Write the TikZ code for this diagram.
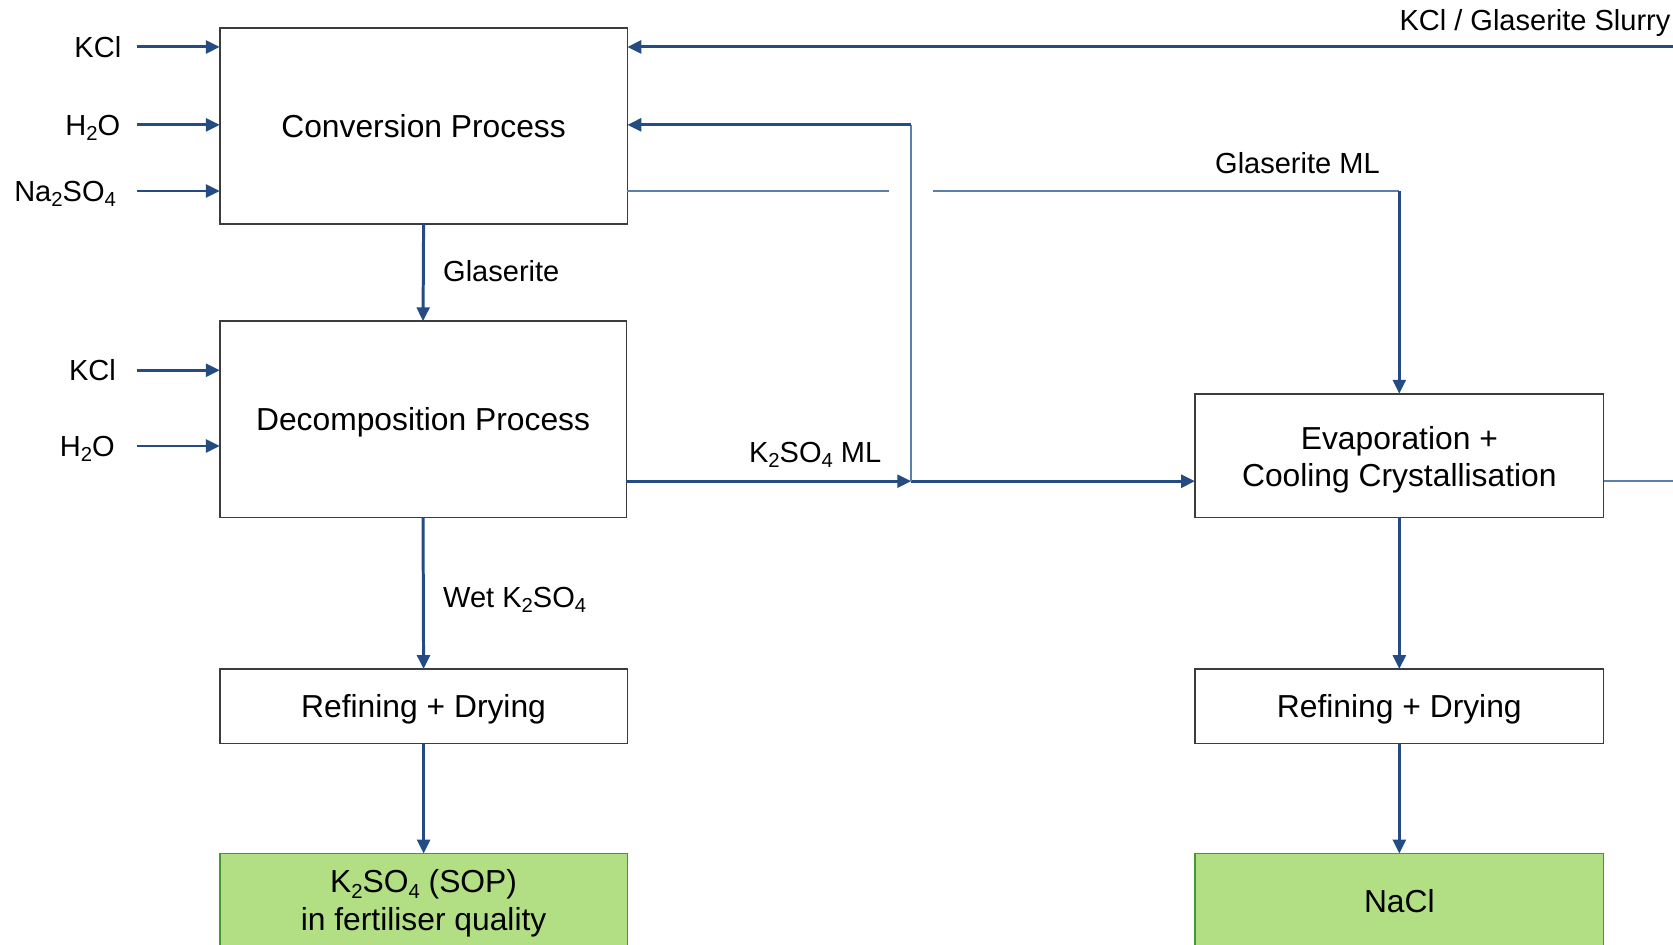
\documentclass[tikz,border=0pt]{standalone}
\usepackage{fontspec}
\setmainfont{Liberation Sans}
\usetikzlibrary{arrows.meta}
% chemical subscript
\newcommand\chsub[1]{\raisebox{-0.32ex}{\fontsize{9.5}{9.5}\selectfont #1}}
% lower a line of text without changing its box
\newcommand\lowerline[2]{\raisebox{-#1}[\height][\depth]{#2}}
\definecolor{flow}{RGB}{36,76,130}
\definecolor{flowlight}{RGB}{92,128,170}
\definecolor{boxline}{RGB}{60,60,60}
\definecolor{prodfill}{RGB}{178,223,132}
\definecolor{prodline}{RGB}{70,150,50}
\begin{document}
\begin{tikzpicture}[x=0.5pt,y=-0.5pt,
  box/.style={draw=boxline, line width=0.75pt, fill=white, inner sep=0pt, outer sep=0pt,
    align=center, font=\fontsize{14.9}{17.5}\selectfont, text height=10.67pt, text depth=0pt},
  twoline/.style={text height={}, text depth={}},
  prod/.style={box, fill=prodfill, draw=prodline},
  arr/.style={draw=flow, line width=1.4pt, -{Triangle[length=6.5pt,width=6pt]}},
  thinflow/.style={draw=flowlight, line width=0.8pt},
  lbl/.style={font=\fontsize{13.6}{16}\selectfont, inner sep=0pt, text height=9.74pt, text depth=0pt},
  inlbl/.style={lbl, anchor=east, inner xsep=#1},
  inlbl/.default=7pt,
]
\useasboundingbox (0,0) rectangle (1568,885);

% process boxes
\node[box, minimum width=191pt, minimum height=92pt] (conv) at (397,118) {Conversion Process};
\node[box, minimum width=190.5pt, minimum height=92pt] (decomp) at (396.5,393) {Decomposition Process};
\node[box, minimum width=191pt, minimum height=35pt] (refl) at (397,662) {Refining + Drying};
\node[prod, twoline, minimum width=191pt, minimum height=45pt] (sop) at (397,845)
  {\lowerline{0.8pt}{K\chsub{2}SO\chsub{4} (SOP)}\\\lowerline{0.8pt}{in fertiliser quality}};
\node[box, twoline, minimum width=191.5pt, minimum height=58pt] (evap) at (1311.5,427)
  {\lowerline{2pt}{Evaporation +}\\\lowerline{2pt}{Cooling Crystallisation}};
\node[box, minimum width=191.5pt, minimum height=35pt] (refr) at (1311.5,662) {Refining + Drying};
\node[prod, minimum width=191.5pt, minimum height=45pt] (nacl) at (1311.5,845) {NaCl};

% feed streams
\node[inlbl=7pt] (kcla) at (128,44) {KCl};
\node[inlbl=7.5pt] (h2oa) at (128,117) {H\chsub{2}O};
\node[inlbl=9.5pt] (na2so4) at (128,179) {Na\chsub{2}SO\chsub{4}};
\node[inlbl=9.5pt] (kclb) at (128,347) {KCl};
\node[inlbl=10pt] (h2ob) at (128,418) {H\chsub{2}O};
\draw[arr] (kcla) -- (kcla -| conv.west);
\draw[arr] (h2oa) -- (h2oa -| conv.west);
\draw[arr] (na2so4) -- (na2so4 -| conv.west);
\draw[arr] (kclb) -- (kclb -| decomp.west);
\draw[arr] (h2ob) -- (h2ob -| decomp.west);

% slurry return
\coordinate (slurry) at (1568,44);
\node[lbl, anchor=east] (slurrylbl) at (1566,19) {KCl / Glaserite Slurry};
\draw[arr] (slurry) -- (slurry -| conv.east);

% main column, left
\draw[arr] (conv.south) -- (decomp.north);
\node[lbl, anchor=west] (glas) at (415,254) {Glaserite};
\draw[arr] (decomp.south) -- (refl.north);
\node[lbl, anchor=west] (wet) at (415,560) {Wet K\chsub{2}SO\chsub{4}};
\draw[arr] (refl.south) -- (sop.north);

% K2SO4 mother liquor and its recycle branch
\coordinate (jn) at (854,451);
\coordinate (rc) at (854,117);
\draw[arr] (decomp.east |- jn) -- (jn);
\node[lbl] (k2so4ml) at (764,424) {K\chsub{2}SO\chsub{4} ML};
\draw[arr] (jn) -- (jn -| evap.west);
\draw[thinflow] (jn) -- (rc);
\draw[arr] (rc) -- (rc -| conv.east);

% glaserite mother liquor, crossing the recycle line
\coordinate (gapl) at (833,179);
\coordinate (gapr) at (874,179);
\coordinate (glc) at (1311.5,179);
\draw[thinflow] (conv.east |- gapl) -- (gapl);
\draw[thinflow] (gapr) -- (glc);
\draw[arr] (glc) -- (evap.north);
\node[lbl] (glasml) at (1216,153) {Glaserite ML};

% evaporation outlet
\coordinate (evout) at (1568,451);
\draw[thinflow] (evap.east |- evout) -- (evout);

% main column, right
\draw[arr] (evap.south) -- (refr.north);
\draw[arr] (refr.south) -- (nacl.north);
\end{tikzpicture}
\end{document}
